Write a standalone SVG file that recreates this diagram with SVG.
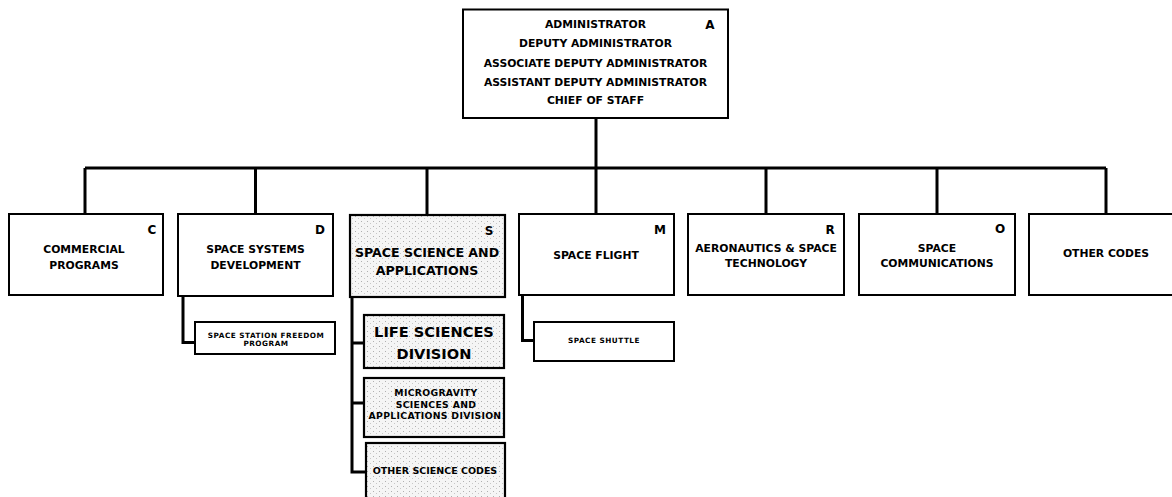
<svg xmlns="http://www.w3.org/2000/svg" width="1172" height="497" viewBox="0 0 1172 497">
  <defs>
    <pattern id="stipple" width="6" height="5" patternUnits="userSpaceOnUse">
      <rect width="6" height="5" fill="#f5f5f5"/>
      <rect x="1" y="1" width="1" height="1" fill="#b0b0b0"/>
      <rect x="4" y="3" width="1" height="1" fill="#c8c8c8"/>
    </pattern>
  </defs>
  <style>
    .box { fill: #ffffff; stroke: #000; stroke-width: 2; }
    .shade { fill: url(#stipple); stroke: #000; stroke-width: 2.2; }
    .lbl { font-family: "DejaVu Sans", "Liberation Sans", sans-serif; font-weight: bold; font-size: 10.8px; fill: #000; text-anchor: middle; }
    .code { font-family: "DejaVu Sans", "Liberation Sans", sans-serif; font-weight: bold; font-size: 12px; fill: #000; text-anchor: middle; }
    .small { font-family: "DejaVu Sans", "Liberation Sans", sans-serif; font-weight: bold; font-size: 7.3px; letter-spacing: 0.5px; fill: #000; text-anchor: middle; }
    .conn { fill: none; stroke: #000; stroke-width: 3; stroke-linejoin: miter; }
  </style>
  <rect width="1172" height="497" fill="#ffffff"/>

  <g id="connectors">
    <path class="conn" d="M596 118 V168"/>
    <path class="conn" d="M85 168 H1106"/>
    <path class="conn" d="M85 168 V214 M255.5 168 V214 M427 168 V215 M596 168 V214 M766 168 V214 M937 168 V214 M1106 168 V214"/>
    <path class="conn" d="M183 296 V342.5 H195"/>
    <path class="conn" d="M522.5 295 V340.5 H534"/>
    <path class="conn" d="M352 297 V472 H366 M352 343 H364 M352 403 H364"/>
  </g>

  <g id="node-A">
    <rect class="box" x="463" y="9.5" width="265" height="108.5"/>
    <text class="lbl" x="595.5" y="28">ADMINISTRATOR</text>
    <text class="lbl" x="595.5" y="47">DEPUTY ADMINISTRATOR</text>
    <text class="lbl" x="595.5" y="66.5">ASSOCIATE DEPUTY ADMINISTRATOR</text>
    <text class="lbl" x="595.5" y="85.5">ASSISTANT DEPUTY ADMINISTRATOR</text>
    <text class="lbl" x="595.5" y="104">CHIEF OF STAFF</text>
    <text class="code" x="710" y="28.5">A</text>
  </g>

  <g id="node-C">
    <rect class="box" x="9" y="214" width="154" height="81"/>
    <text class="lbl" x="84" y="253">COMMERCIAL</text>
    <text class="lbl" x="84" y="269">PROGRAMS</text>
    <text class="code" x="152" y="234">C</text>
  </g>

  <g id="node-D">
    <rect class="box" x="178" y="214" width="155" height="82"/>
    <text class="lbl" x="255.5" y="253">SPACE SYSTEMS</text>
    <text class="lbl" x="255.5" y="269">DEVELOPMENT</text>
    <text class="code" x="320" y="234">D</text>
  </g>

  <g id="node-SSF">
    <rect class="box" x="195" y="322" width="140" height="32"/>
    <text class="small" x="266" y="337.5">SPACE STATION FREEDOM</text>
    <text class="small" x="266" y="346">PROGRAM</text>
  </g>

  <g id="node-S">
    <rect class="shade" x="350" y="215" width="155" height="82"/>
    <text class="lbl" x="427" y="257" style="font-size:12.6px">SPACE SCIENCE AND</text>
    <text class="lbl" x="427" y="274.5" style="font-size:12.6px">APPLICATIONS</text>
    <text class="code" x="489" y="234.5">S</text>
  </g>

  <g id="node-LS">
    <rect class="shade" x="364" y="315" width="140" height="53"/>
    <text class="lbl" x="434" y="337" style="font-size:14.6px">LIFE SCIENCES</text>
    <text class="lbl" x="434" y="358.5" style="font-size:14.6px">DIVISION</text>
  </g>

  <g id="node-MSAD">
    <rect class="shade" x="364" y="378" width="140" height="59"/>
    <text class="lbl" x="436" y="396" style="font-size:9.3px;letter-spacing:0.3px">MICROGRAVITY</text>
    <text class="lbl" x="436" y="407.5" style="font-size:9.3px;letter-spacing:0.3px">SCIENCES AND</text>
    <text class="lbl" x="435" y="419" style="font-size:9.3px;letter-spacing:0.3px">APPLICATIONS DIVISION</text>
  </g>

  <g id="node-OSC">
    <rect class="shade" x="366" y="443" width="139" height="64"/>
    <text class="lbl" x="435" y="473.5" style="font-size:9.5px">OTHER SCIENCE CODES</text>
  </g>

  <g id="node-M">
    <rect class="box" x="519" y="214" width="155" height="81"/>
    <text class="lbl" x="596" y="259">SPACE FLIGHT</text>
    <text class="code" x="660" y="234">M</text>
  </g>

  <g id="node-SS">
    <rect class="box" x="534" y="322" width="140" height="39"/>
    <text class="small" x="604" y="343">SPACE SHUTTLE</text>
  </g>

  <g id="node-R">
    <rect class="box" x="688" y="214" width="156" height="81"/>
    <text class="lbl" x="766" y="251.5">AERONAUTICS &amp; SPACE</text>
    <text class="lbl" x="766" y="266.5">TECHNOLOGY</text>
    <text class="code" x="830" y="234">R</text>
  </g>

  <g id="node-O">
    <rect class="box" x="859" y="214" width="156" height="81"/>
    <text class="lbl" x="937" y="251.5">SPACE</text>
    <text class="lbl" x="937" y="266.5">COMMUNICATIONS</text>
    <text class="code" x="1000" y="233">O</text>
  </g>

  <g id="node-OC">
    <rect class="box" x="1029" y="214" width="155" height="81"/>
    <text class="lbl" x="1106" y="257">OTHER CODES</text>
  </g>
</svg>
